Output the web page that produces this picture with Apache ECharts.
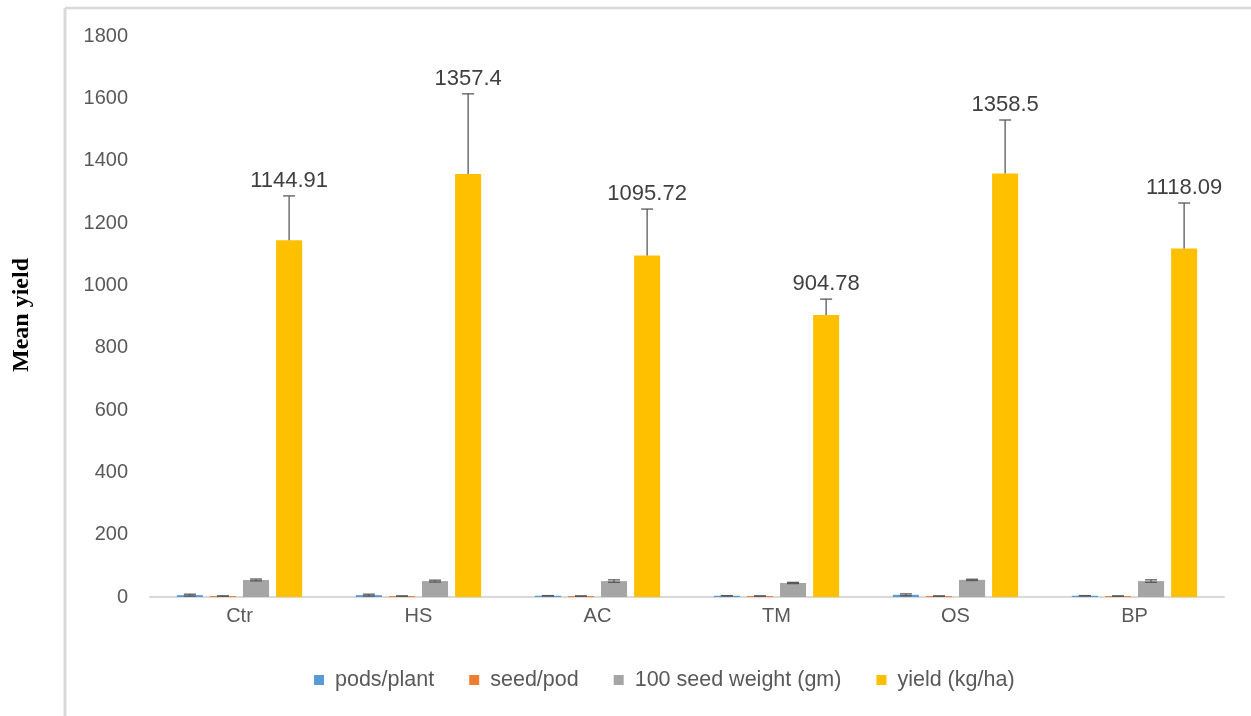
<!DOCTYPE html>
<html>
<head>
<meta charset="utf-8">
<script src="https://cdn.jsdelivr.net/npm/echarts@6/dist/echarts.min.js"></script>
<style>
html,body{margin:0;padding:0;background:#fff;}
#chart{width:1251px;height:716px;}
</style>
</head>
<body>
<div id="chart"></div>
<script>
const categories = ['Ctr', 'HS', 'AC', 'TM', 'OS', 'BP'];
const seriesNames = ['pods/plant', 'seed/pod', '100 seed weight (gm)', 'yield (kg/ha)'];
const podsPlant = [6, 6, 4, 4, 7, 4];
const podsPlantErr = [3, 3, 0.5, 0.5, 3, 0.5];
const seedPod = [3, 3, 3, 3, 3, 3];
const seedPodErr = [0.4, 0.4, 0.4, 0.4, 0.4, 0.4];
const seedWeight = [54.6, 51, 51, 45, 55, 51];
const seedWeightErr = [3, 3, 4, 2, 2, 4];
const yieldVals = [1144.91, 1357.4, 1095.72, 904.78, 1358.5, 1118.09];
const yieldErr = [142, 257, 149, 51, 172, 146];
const yTicks = [0, 200, 400, 600, 800, 1000, 1200, 1400, 1600, 1800];
const colors = ['#5b9bd5', '#ed7d31', '#a5a5a5', '#ffc000'];

const values = [podsPlant, seedPod, seedWeight, yieldVals];
const errors = [podsPlantErr, seedPodErr, seedWeightErr, yieldErr];
const CAT_GAP = 0.30, BAR_GAP = 0.27, NBARS = 4;

function errSeries(idx, withLabel, plusOnly) {
  const data = categories.map((c, i) => [i, values[idx][i], errors[idx][i]]);
  return {
    type: 'custom',
    name: seriesNames[idx] + ' err',
    z: 5,
    silent: true,
    data: data,
    renderItem: function (params, api) {
      const ci = api.value(0), v = api.value(1), e = api.value(2);
      const band = api.size([1, 0])[0];
      const w = band * (1 - CAT_GAP) / (NBARS + (NBARS - 1) * BAR_GAP);
      const start = -band * (1 - CAT_GAP) / 2;
      const center = api.coord([ci, 0])[0] + start + idx * w * (1 + BAR_GAP) + w / 2;
      const top = api.coord([ci, v + e])[1];
      const bot = api.coord([ci, plusOnly ? v : Math.max(0, v - e)])[1];
      const capHalf = 6;
      const st = { stroke: '#595959', lineWidth: 1.3 };
      const children = [
        { type: 'line', shape: { x1: center, y1: top, x2: center, y2: bot }, style: st },
        { type: 'line', shape: { x1: center - capHalf, y1: top, x2: center + capHalf, y2: top }, style: st }
      ];
      if (!plusOnly) {
        children.push({ type: 'line', shape: { x1: center - capHalf, y1: bot, x2: center + capHalf, y2: bot }, style: st });
      }
      if (withLabel) {
        children.push({
          type: 'text',
          style: {
            x: center, y: top - 4,
            text: String(v),
            fill: '#404040',
            font: '22px "Liberation Sans", Arial, sans-serif',
            textAlign: 'center', textVerticalAlign: 'bottom'
          }
        });
      }
      return { type: 'group', children: children };
    }
  };
}

const chart = echarts.init(document.getElementById('chart'), null, { renderer: 'canvas' });
const barSeries = seriesNames.map((n, i) => ({
  type: 'bar',
  name: n,
  data: values[i],
  itemStyle: { color: colors[i] },
  barGap: (BAR_GAP * 100) + '%',
  barCategoryGap: (CAT_GAP * 100) + '%'
}));

chart.setOption({
  animation: false,
  backgroundColor: '#fff',
  graphic: [
    { type: 'line', shape: { x1: 65, y1: 8, x2: 1251, y2: 8 }, style: { stroke: '#d9d9d9', lineWidth: 2.5 } },
    { type: 'line', shape: { x1: 65, y1: 8, x2: 65, y2: 716 }, style: { stroke: '#d9d9d9', lineWidth: 3 } },
    {
      type: 'text',
      x: 22, y: 315,
      rotation: Math.PI / 2,
      style: {
        text: 'Mean yield',
        fill: '#000',
        font: 'bold 24px "Liberation Serif", "Times New Roman", serif',
        textAlign: 'center', textVerticalAlign: 'middle'
      }
    }
  ],
  grid: { left: 150, right: 27, top: 36, bottom: 119, containLabel: false },
  legend: {
    data: seriesNames,
    bottom: 20,
    left: 309,
    itemWidth: 10, itemHeight: 10,
    itemGap: 35,
    icon: 'rect',
    textStyle: { color: '#595959', fontSize: 21.5, fontFamily: '"Liberation Sans", Arial, sans-serif', padding: [0, 0, 0, 6] }
  },
  xAxis: {
    type: 'category',
    data: categories,
    axisLine: { lineStyle: { color: '#d9d9d9', width: 2 } },
    axisTick: { show: false },
    axisLabel: { color: '#595959', fontSize: 20, margin: 9, fontFamily: '"Liberation Sans", Arial, sans-serif' }
  },
  yAxis: {
    type: 'value',
    min: 0, max: 1800, interval: 200,
    axisLine: { show: false },
    axisTick: { show: false },
    splitLine: { show: false },
    axisLabel: { color: '#595959', fontSize: 20, margin: 22, fontFamily: '"Liberation Sans", Arial, sans-serif',
      formatter: function (v) { return yTicks.indexOf(v) >= 0 ? String(v) : ''; } }
  },
  series: barSeries.concat([
    errSeries(0, false, false),
    errSeries(1, false, false),
    errSeries(2, false, false),
    errSeries(3, true, true)
  ])
});
</script>
</body>
</html>
